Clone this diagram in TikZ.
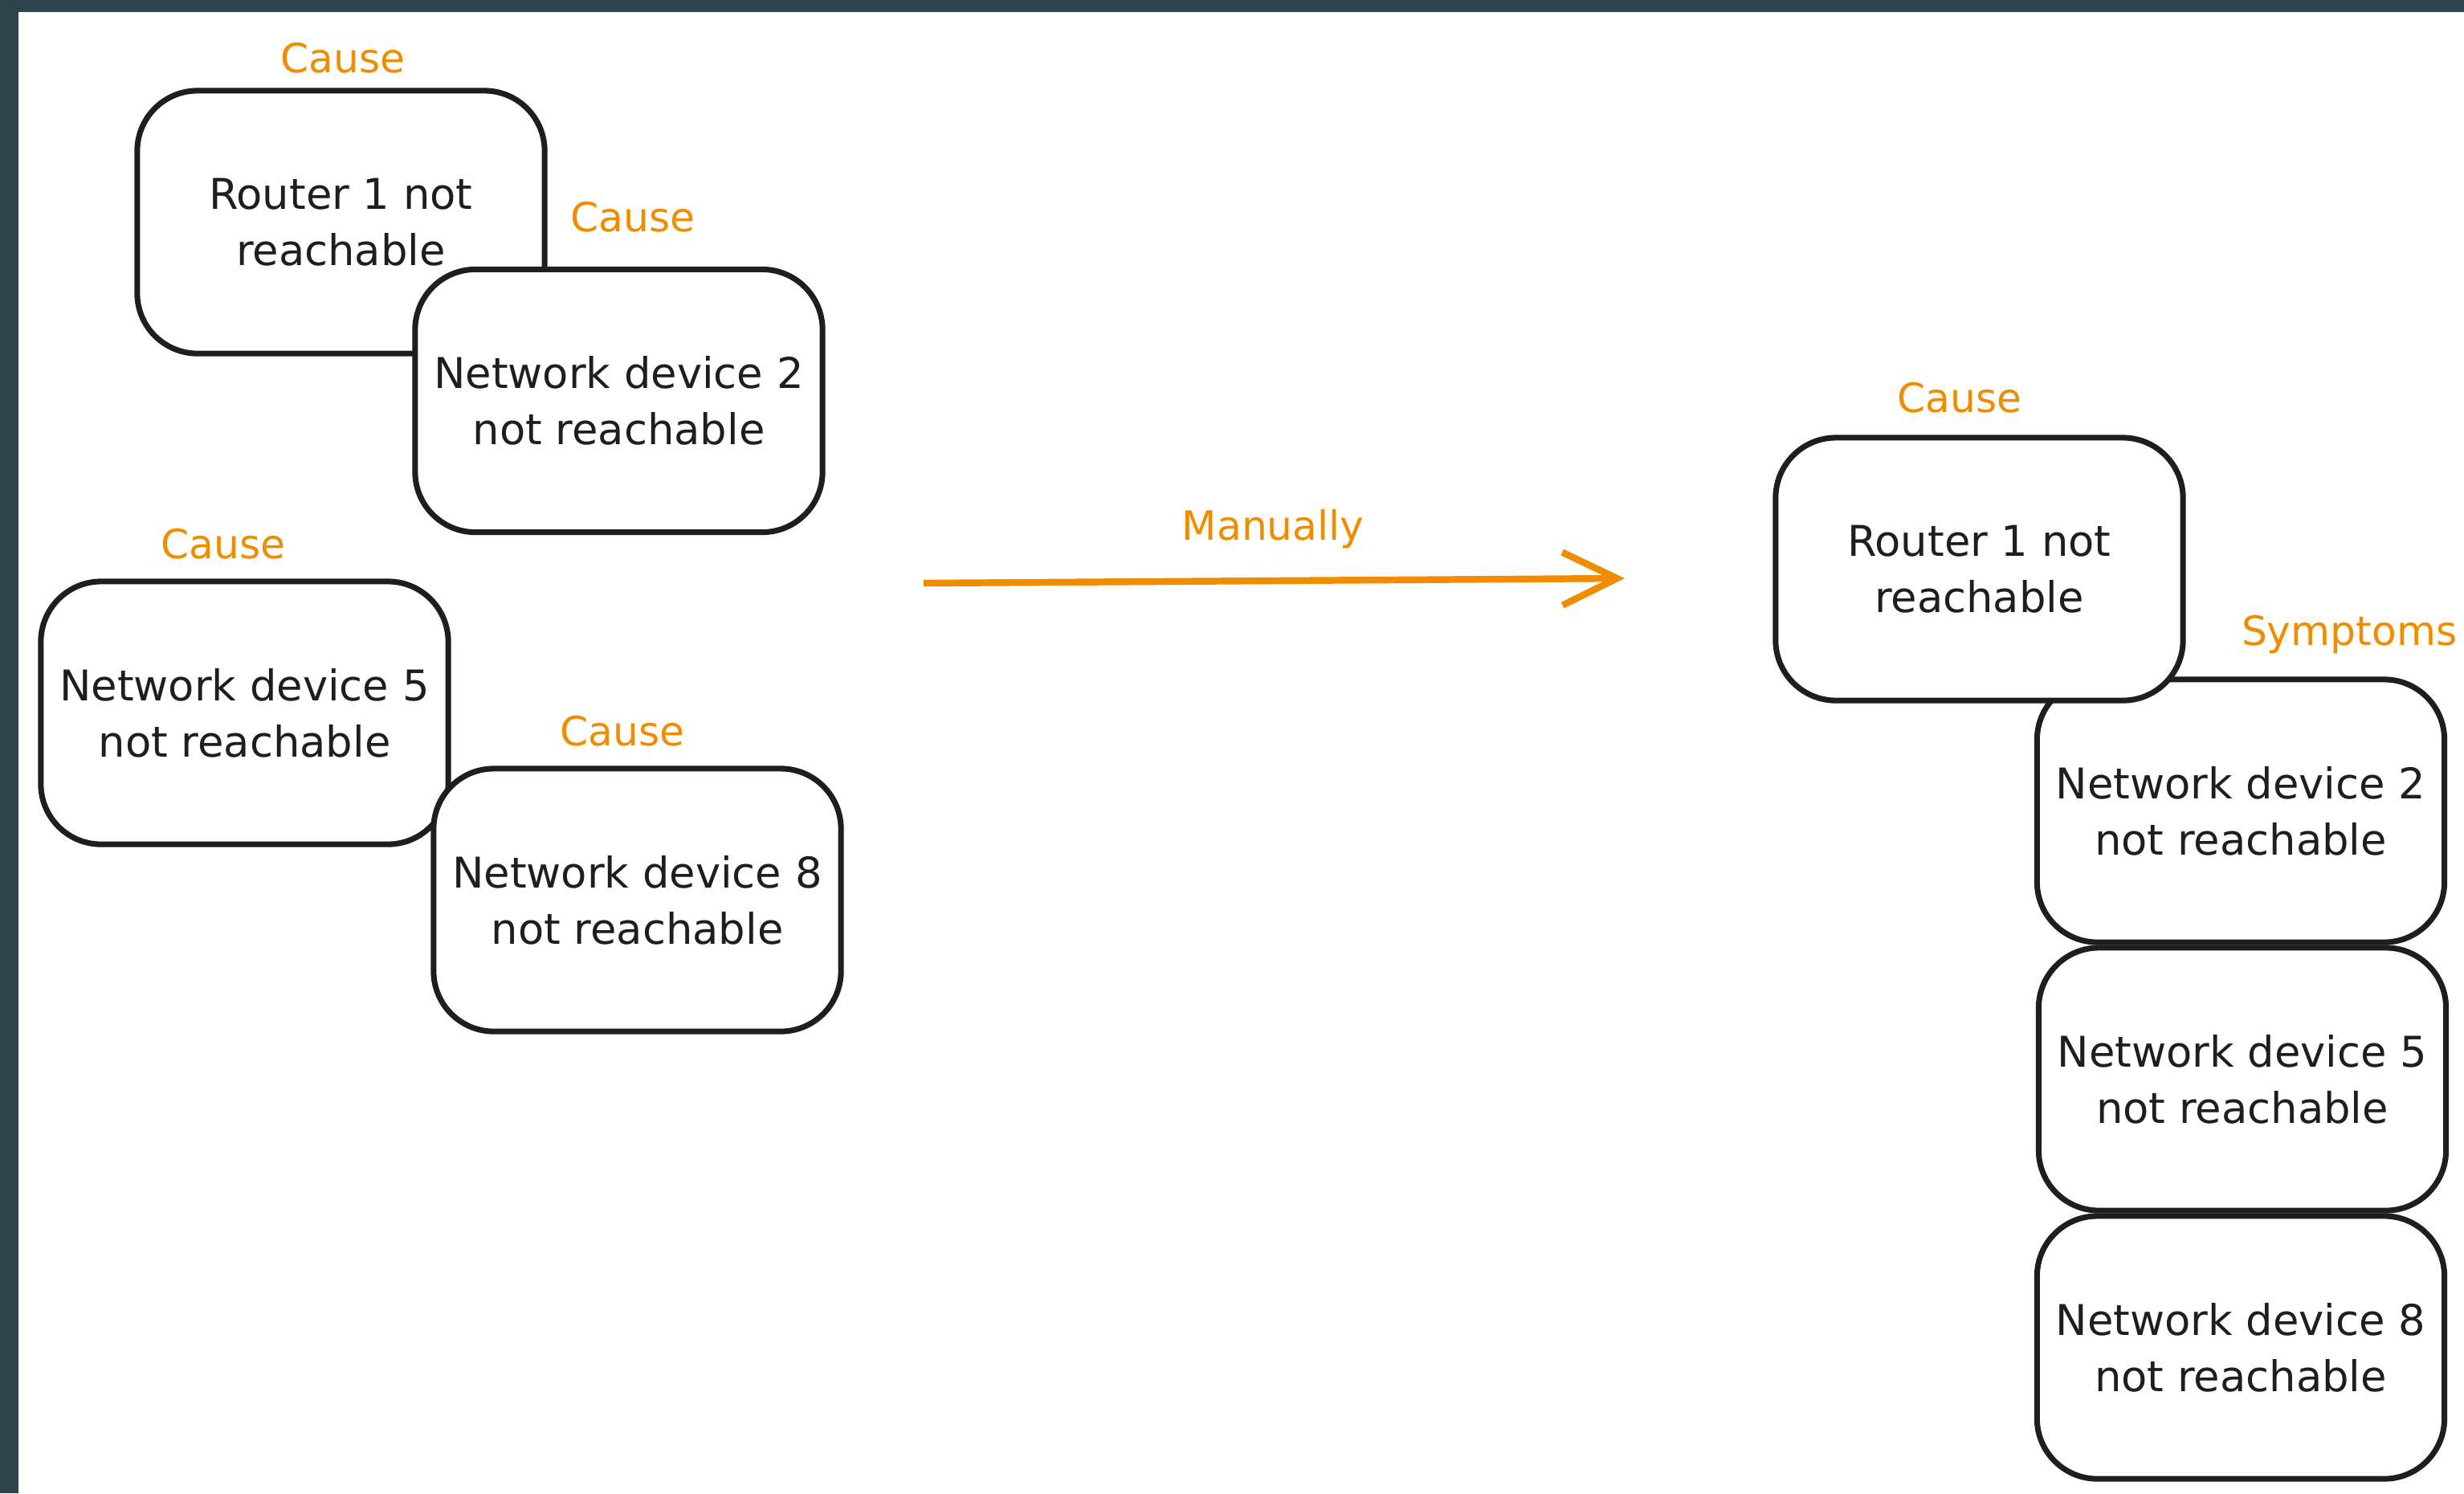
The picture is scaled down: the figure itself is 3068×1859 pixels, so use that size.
\documentclass[tikz,border=0pt]{standalone}
\usepackage{fontspec}
\setmainfont{DejaVu Sans}
\usetikzlibrary{arrows.meta}
\definecolor{frame}{RGB}{46,67,75}
\definecolor{ink}{RGB}{30,30,30}
\definecolor{orng}{RGB}{240,140,0}
\tikzset{
  box/.style={draw=ink, fill=white, line width=2pt, rounded corners=0.75cm,
    minimum width=5.07cm, minimum height=3.27cm, align=center, text=ink,
    font=\fontsize{15}{20}\selectfont, inner sep=0pt},
  lbl/.style={text=orng, font=\fontsize{14.3}{18}\selectfont, inner sep=0pt},
  flow/.style={draw=orng, line width=2.4pt, -{Straight Barb[length=0.68cm,width=0.66cm,line width=2.4pt]}}
}
\begin{document}
\begin{tikzpicture}[x=0.01cm,y=-0.01cm]
\useasboundingbox (0,0) rectangle (3068,1859);
\clip (0,0) rectangle (3068,1859);
\fill[frame] (0,0) rectangle (3068,1859);
\fill[white] (23,15) rectangle (3068,1859);
% left group
\node[box] (a) at (424.5,276.5) {Router 1 not\\reachable};
\node[box] (b) at (770.5,499) {Network device 2\\not reachable};
\node[box] (c) at (304.5,887.5) {Network device 5\\not reachable};
\node[box] (d) at (793.5,1120.5) {Network device 8\\not reachable};
% right group
\node[box] (f) at (2790,1009.5) {Network device 2\\not reachable};
\node[box] (e) at (2464.5,708.5) {Router 1 not\\reachable};
\node[box] (g) at (2792,1343.5) {Network device 5\\not reachable};
\node[box] (h) at (2790,1677.5) {Network device 8\\not reachable};
% labels
\node[lbl] (la) at (427,72) {Cause};
\node[lbl] (lb) at (788,270) {Cause};
\node[lbl] (lc) at (278,677) {Cause};
\node[lbl] (ld) at (775,910) {Cause};
\node[lbl] (le) at (2440,495) {Cause};
\node[lbl, anchor=east] (lf) at (3060,790) {Symptoms};
% arrow
\coordinate (s) at (1150,726);
\coordinate (t) at (2023,720);
\draw[flow] (s) -- (t);
\node[lbl] (lm) at (1585,659) {Manually};
\end{tikzpicture}
\end{document}
